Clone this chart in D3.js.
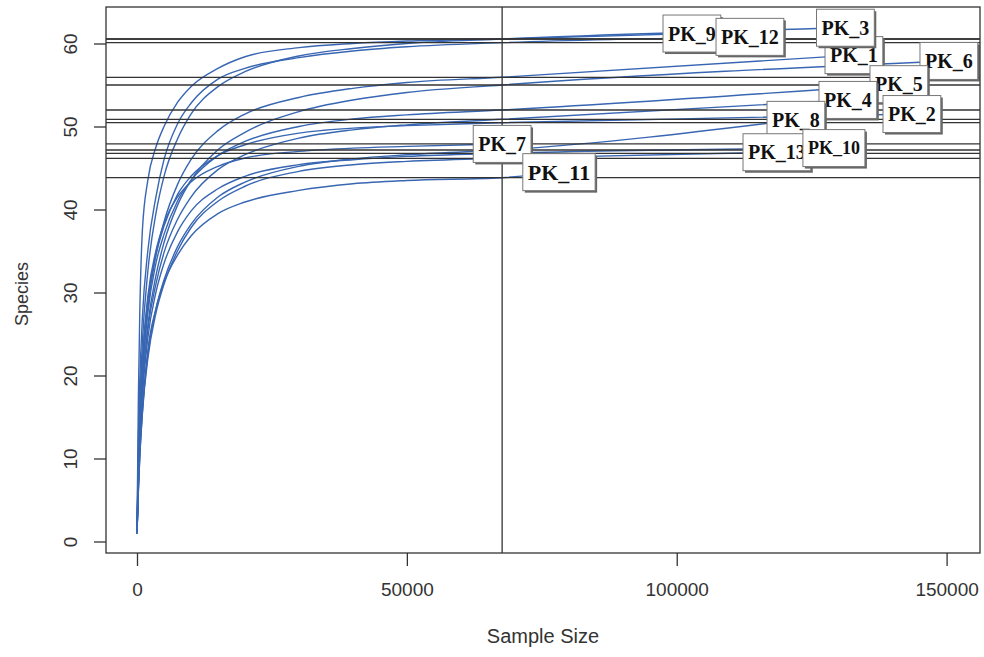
<script src="https://cdn.jsdelivr.net/npm/d3@7"></script>
<style>
  body { margin: 0; background: #fff; }
  text { font-family: "Liberation Sans", Arial, sans-serif; }
</style>
<div id="rarecurve"></div>
<script>
// samples and the end of each curve (total reads, observed species)
var samples = ["PK_1","PK_2","PK_3","PK_4","PK_5","PK_6","PK_7","PK_8","PK_9","PK_10","PK_11","PK_12","PK_13"];
var endSize = [132830, 143570, 131250, 131710, 141160, 150420, 67650, 122080, 102810, 129120, 78180, 113560, 118560];
var endSpecies = [58.6, 51.5, 61.9, 53.2, 55.1, 57.9, 47.9, 50.8, 61.2, 47.4, 44.5, 60.8, 46.9];

// subsample sizes the curves were read at (last one = smallest library, the vertical line)
var subsample = [0, 250, 500, 1000, 2000, 3500, 5000, 7500, 10000, 15000, 20000, 30000, 40000, 50000, 67650];
var rareSpecies = [
  [1, 8, 13, 20, 28, 34.5, 38.5, 43, 46, 49.5, 51.5, 53.5, 54.6, 55.3, 55.93],        // PK_1
  [1, 9, 14.5, 21.5, 29, 34.5, 38, 41.8, 44, 46.5, 47.8, 49.2, 49.8, 50.1, 50.46],    // PK_2
  [1, 10, 16, 24, 32.5, 39.5, 44, 48.5, 51.5, 54.8, 56.6, 58.5, 59.4, 60, 60.54],     // PK_3
  [1, 7.5, 12, 18.5, 25.5, 31, 34.8, 38.8, 41.5, 44.8, 46.6, 48.6, 49.6, 50.2, 50.87],// PK_4
  [1, 8, 13, 20, 27.5, 33.5, 37, 41, 43.5, 46.5, 48.2, 50, 50.9, 51.4, 51.99],        // PK_5
  [1, 7, 12, 18.5, 26, 32, 36, 40.5, 43.5, 47.2, 49.3, 51.8, 53.2, 54.1, 55.0],       // PK_6
  [1, 9.5, 15, 22, 29.5, 35, 38.3, 41.5, 43.3, 45.2, 46.2, 47, 47.4, 47.6, 47.9],     // PK_7
  [1, 6.5, 10.5, 16, 22.5, 28, 31.5, 35.5, 38.2, 41.5, 43.3, 45.2, 46.1, 46.6, 47.17],// PK_8
  [1, 17, 27, 37.5, 43.5, 47.5, 50, 52.9, 54.8, 57, 58.4, 59.5, 60, 60.3, 60.54],     // PK_9
  [1, 7, 11.5, 17.5, 24.5, 30, 33.5, 37.3, 39.8, 42.5, 44, 45.4, 46, 46.4, 46.77],    // PK_10
  [1, 6, 10, 15.5, 23, 28, 31.2, 34.5, 36.8, 39.5, 40.9, 42.3, 43.1, 43.5, 43.83],    // PK_11
  [1, 12, 19, 27, 35, 41.5, 46, 50.3, 52.8, 55.7, 57, 58.3, 59.1, 59.6, 60.1],        // PK_12
  [1, 6, 10, 15.5, 22, 27.5, 31, 35, 37.8, 41, 42.8, 44.6, 45.4, 45.8, 46.17]         // PK_13
];

var xTicks = [0, 50000, 100000, 150000];
var yTicks = [0, 10, 20, 30, 40, 50, 60];
// drawing order of the boxed labels (later ones sit on top)
var labelOrder = ["PK_9","PK_12","PK_1","PK_3","PK_6","PK_5","PK_4","PK_2","PK_8","PK_13","PK_10","PK_7","PK_11"];

var width = 984, height = 657;
var box = {left: 106, right: 980, top: 7, bottom: 553};

var svg = d3.select("#rarecurve").append("svg")
    .attr("width", width)
    .attr("height", height);

var x = d3.scaleLinear().domain([0, 150000]).range([137, 946.6]);
var y = d3.scaleLinear().domain([0, 60]).range([541.5, 43.5]);

var curves = samples.map(function(s, i) {
    var pts = subsample.map(function(n, j) { return [n, rareSpecies[i][j]]; });
    if (endSize[i] > subsample[subsample.length - 1]) pts.push([endSize[i], endSpecies[i]]);
    return pts;
});

var line = d3.line()
    .x(function(d) { return x(d[0]); })
    .y(function(d) { return y(d[1]); })
    .curve(d3.curveMonotoneX);

var plot = svg.append("g");

// rarefaction curves
plot.selectAll("path.curve")
    .data(curves)
    .join("path")
    .attr("class", "curve")
    .attr("d", line)
    .attr("fill", "none")
    .attr("stroke", "#3866b2")
    .attr("stroke-width", 1.4);

// vertical line at the smallest sample, horizontal lines at rarefied richness
var minSample = subsample[subsample.length - 1];
plot.append("line")
    .attr("x1", x(minSample)).attr("x2", x(minSample))
    .attr("y1", box.top).attr("y2", box.bottom)
    .attr("stroke", "#333").attr("stroke-width", 1.3);

plot.selectAll("line.rare")
    .data(rareSpecies.map(function(r) { return r[r.length - 1]; }))
    .join("line")
    .attr("class", "rare")
    .attr("x1", box.left).attr("x2", box.right)
    .attr("y1", function(d) { return y(d); })
    .attr("y2", function(d) { return y(d); })
    .attr("stroke", "#333")
    .attr("stroke-width", 1.3);

// boxed labels at curve ends
var labels = plot.append("g").selectAll("g")
    .data(labelOrder)
    .join("g")
    .attr("transform", function(d) {
        var i = samples.indexOf(d);
        return "translate(" + x(endSize[i]) + "," + y(endSpecies[i]) + ")";
    });

labels.append("text")
    .attr("text-anchor", "middle")
    .attr("dy", "0.35em")
    .style("font-family", "'Liberation Serif', 'Times New Roman', serif")
    .style("font-weight", "bold")
    .style("font-size", function(d) { return d == "PK_11" ? "22px" : d == "PK_10" ? "18px" : "20px"; })
    .attr("fill", "#111")
    .text(function(d) { return d; });

labels.each(function() {
    var g = d3.select(this);
    var bb = g.select("text").node().getBBox();
    var w = bb.width + 10, h = 37;
    g.insert("rect", "text")
        .attr("x", -w / 2 + 2).attr("y", -h / 2 + 2)
        .attr("width", w).attr("height", h)
        .attr("fill", "#666");
    g.insert("rect", "text")
        .attr("x", -w / 2).attr("y", -h / 2)
        .attr("width", w).attr("height", h)
        .attr("fill", "#fff")
        .attr("stroke", "#777")
        .attr("stroke-width", 1);
});

// plot box
svg.append("rect")
    .attr("x", box.left).attr("y", box.top)
    .attr("width", box.right - box.left).attr("height", box.bottom - box.top)
    .attr("fill", "none").attr("stroke", "#333").attr("stroke-width", 1.3);

// axes
var xAxis = svg.append("g")
    .attr("transform", "translate(0," + box.bottom + ")")
    .call(d3.axisBottom(x).tickValues(xTicks).tickSize(13).tickPadding(17).tickFormat(d3.format("d")));
var yAxis = svg.append("g")
    .attr("transform", "translate(" + box.left + ",0)")
    .call(d3.axisLeft(y).tickValues(yTicks).tickSize(12).tickPadding(0));

[xAxis, yAxis].forEach(function(a) {
    a.select(".domain").remove();
    a.selectAll("line").attr("stroke", "#333").attr("stroke-width", 1.3);
    a.selectAll("text").attr("fill", "#333").style("font-size", "19px")
        .style("font-family", "'Liberation Sans', Arial, sans-serif");
});
yAxis.selectAll("text")
    .attr("x", null).attr("dy", null)
    .attr("text-anchor", "middle")
    .attr("transform", "translate(-36,0) rotate(-90)")
    .attr("dy", "0.35em");

svg.append("text")
    .attr("x", (box.left + box.right) / 2)
    .attr("y", 643)
    .attr("text-anchor", "middle")
    .attr("fill", "#333")
    .style("font-size", "20px")
    .text("Sample Size");

svg.append("text")
    .attr("transform", "translate(22,294) rotate(-90)")
    .attr("text-anchor", "middle")
    .attr("dy", "0.35em")
    .attr("fill", "#333")
    .style("font-size", "18px")
    .text("Species");
</script>
